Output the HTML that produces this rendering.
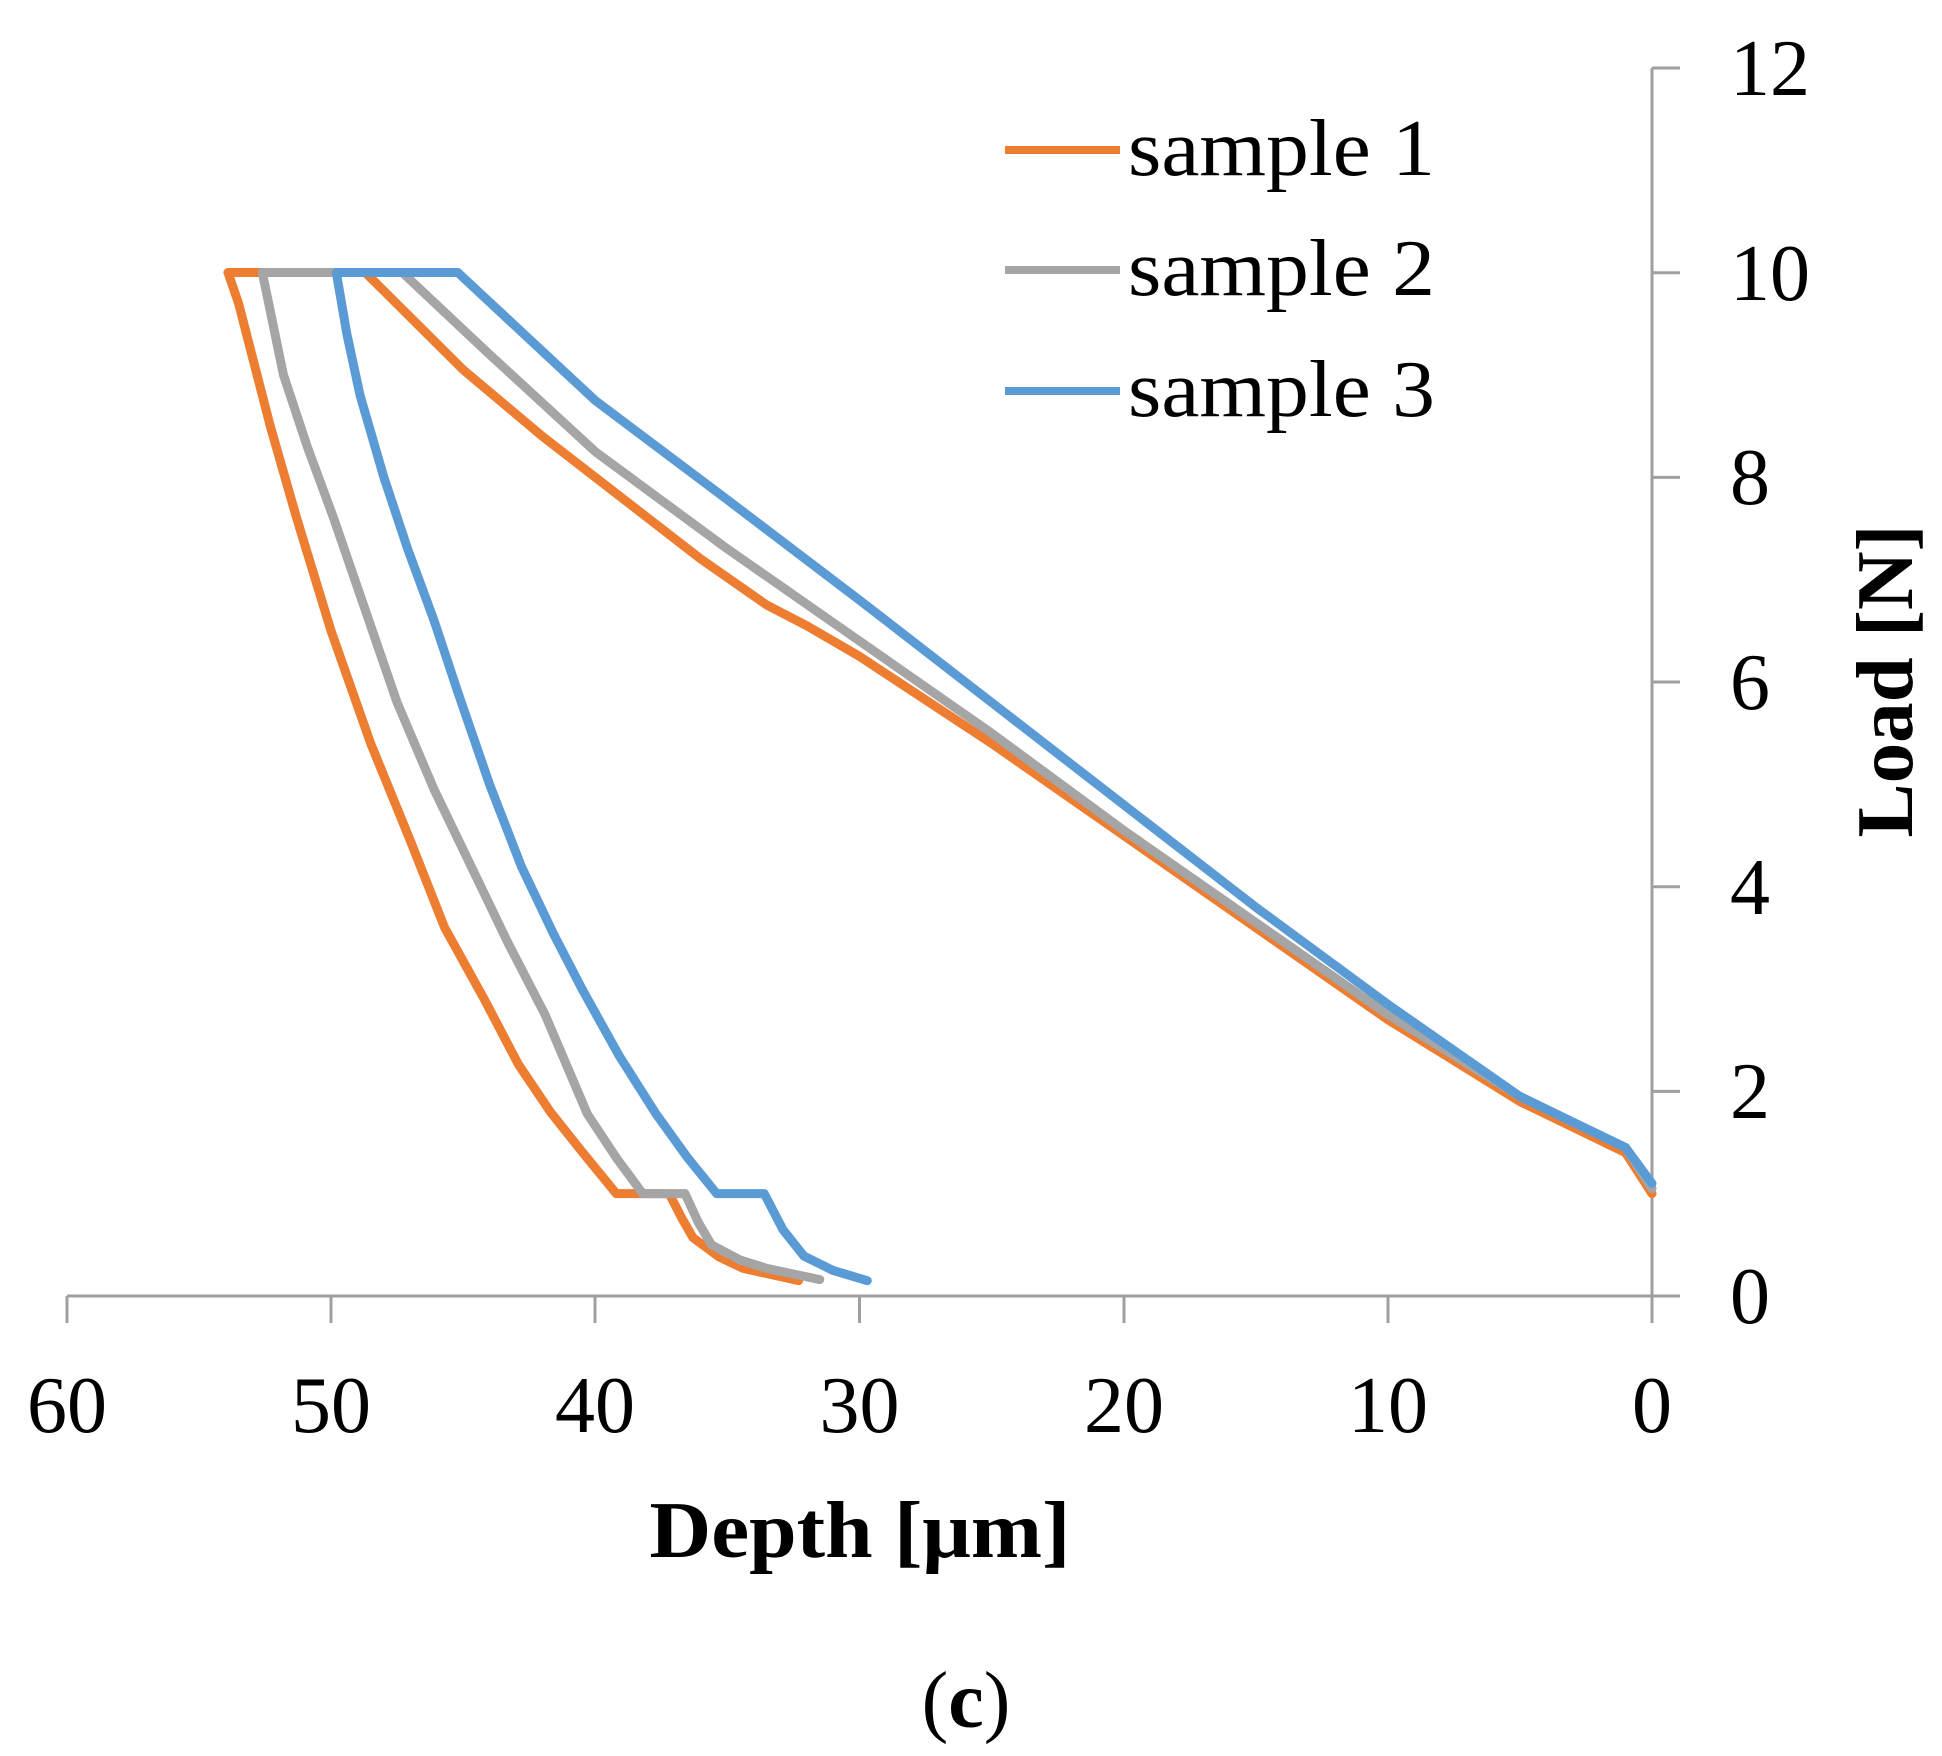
<!DOCTYPE html>
<html><head><meta charset="utf-8"><style>
html,body{margin:0;padding:0;background:#fff;}
svg{display:block;}
text{font-family:"Liberation Serif",serif;fill:#000;}
</style></head><body>
<svg width="1942" height="1756" viewBox="0 0 1942 1756" xmlns="http://www.w3.org/2000/svg">
<g stroke="#a0a0a0" stroke-width="3" fill="none">
<line x1="1652" y1="68" x2="1652" y2="1323"/>
<line x1="67" y1="1296" x2="1680" y2="1296"/>
<line x1="1652" y1="68" x2="1680" y2="68"/>
<line x1="1652" y1="272.7" x2="1680" y2="272.7"/>
<line x1="1652" y1="477.4" x2="1680" y2="477.4"/>
<line x1="1652" y1="682" x2="1680" y2="682"/>
<line x1="1652" y1="886.7" x2="1680" y2="886.7"/>
<line x1="1652" y1="1091.4" x2="1680" y2="1091.4"/>
<line x1="67" y1="1296" x2="67" y2="1323"/>
<line x1="331" y1="1296" x2="331" y2="1323"/>
<line x1="595" y1="1296" x2="595" y2="1323"/>
<line x1="859.5" y1="1296" x2="859.5" y2="1323"/>
<line x1="1124" y1="1296" x2="1124" y2="1323"/>
<line x1="1388" y1="1296" x2="1388" y2="1323"/>
</g>
<g font-size="80">
<text x="1730" y="95">12</text>
<text x="1730" y="300">10</text>
<text x="1730" y="504">8</text>
<text x="1730" y="709">6</text>
<text x="1730" y="914">4</text>
<text x="1730" y="1118">2</text>
<text x="1730" y="1323">0</text>
</g>
<g font-size="80" text-anchor="middle">
<text x="67" y="1432">60</text>
<text x="331" y="1432">50</text>
<text x="595" y="1432">40</text>
<text x="859.5" y="1432">30</text>
<text x="1124" y="1432">20</text>
<text x="1388" y="1432">10</text>
<text x="1652" y="1432">0</text>
</g>
<text x="860" y="1557" font-size="80" font-weight="bold" text-anchor="middle" textLength="421" lengthAdjust="spacingAndGlyphs">Depth [μm]</text>
<text transform="translate(1912,681) rotate(-90)" font-size="80" font-weight="bold" text-anchor="middle" textLength="313" lengthAdjust="spacingAndGlyphs">Load [N]</text>
<text x="966" y="1727" font-size="80" text-anchor="middle">(<tspan font-weight="bold">c</tspan>)</text>

<g transform="translate(1652,1296) scale(-26.42,-102.35)" fill="none" stroke-linejoin="round" stroke-linecap="round">
<path vector-effect="non-scaling-stroke" stroke="#ED7D31" stroke-width="9"
d="M0,1.0 L0.5,1.2 L1,1.4 L3,1.65 L5,1.9 L7.5,2.3 L10,2.7 L15,3.6 L20,4.5 L25,5.4 L30,6.25 L32,6.55 L33.5,6.75 L36,7.2 L39,7.8 L42,8.4 L45,9.05 L48.7,10 L53.9,10 L53.5,9.7 L52.9,9.1 L52.3,8.5 L51.3,7.6 L50,6.5 L48.5,5.4 L47,4.45 L45.7,3.6 L44.2,2.9 L42.9,2.26 L41.7,1.8 L40.5,1.41 L39.2,1.0 L37.2,1.0 L36.7,0.75 L36.3,0.57 L35.3,0.38 L34.4,0.27 L32.3,0.15"/>
<path vector-effect="non-scaling-stroke" stroke="#A5A5A5" stroke-width="9"
d="M0,1.05 L1,1.45 L3,1.7 L5,1.95 L10,2.75 L15,3.65 L20,4.55 L25,5.5 L30,6.4 L35,7.3 L40,8.25 L44,9.2 L47.3,10 L52.6,10 L52.2,9.5 L51.8,9.0 L50.9,8.3 L49.9,7.6 L48.7,6.7 L47.5,5.8 L46.1,4.95 L44.7,4.2 L43.3,3.45 L41.9,2.75 L40.3,1.78 L39.2,1.35 L38.2,1.0 L36.6,1.0 L36.1,0.72 L35.6,0.5 L34.5,0.35 L33.5,0.27 L31.5,0.16"/>
<path vector-effect="non-scaling-stroke" stroke="#5B9BD5" stroke-width="9"
d="M0,1.1 L1,1.45 L3,1.7 L5,1.95 L10,2.85 L15,3.8 L20,4.8 L25,5.8 L30,6.8 L35,7.78 L40,8.75 L45.2,10 L49.8,10 L49.4,9.4 L48.9,8.8 L48,8.0 L47.1,7.3 L46.1,6.6 L45.2,5.9 L44,5.0 L42.8,4.2 L41.6,3.55 L40.5,3.0 L39.1,2.35 L37.7,1.78 L36.5,1.35 L35.4,1.0 L33.6,1.0 L32.9,0.65 L32.1,0.39 L31,0.25 L29.7,0.15"/>
</g>

<g stroke-width="8">
<line x1="1005" y1="150" x2="1120" y2="150" stroke="#ED7D31"/>
<line x1="1005" y1="270" x2="1120" y2="270" stroke="#A5A5A5"/>
<line x1="1005" y1="391" x2="1120" y2="391" stroke="#5B9BD5"/>
</g>
<g font-size="80">
<text x="1128" y="175" textLength="307" lengthAdjust="spacingAndGlyphs">sample 1</text>
<text x="1128" y="295" textLength="307" lengthAdjust="spacingAndGlyphs">sample 2</text>
<text x="1128" y="416" textLength="307" lengthAdjust="spacingAndGlyphs">sample 3</text>
</g>
</svg>
</body></html>
